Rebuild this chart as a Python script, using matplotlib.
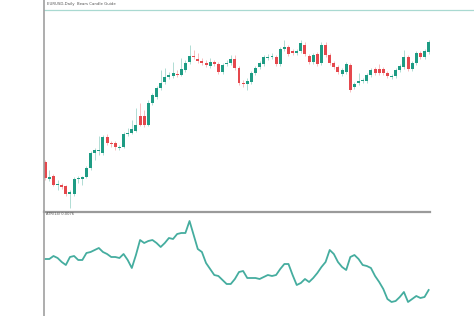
import matplotlib
matplotlib.use("Agg")
import matplotlib.pyplot as plt
import numpy as np

# candle data (arbitrary price units)
opens = [48, 31, 34, 25, 25, 24, 16, 16, 31, 31,
         33, 42, 57, 59, 57, 73, 67, 67, 62, 63,
         76, 77, 79, 94, 94, 85, 107, 113, 122, 128,
         133, 134, 136, 135, 140, 148, 154, 151, 149, 147,
         144, 148, 146, 138, 146, 147, 151, 142, 127, 126,
         128, 137, 143, 146, 152, 153, 153, 146, 161, 163,
         159, 157, 159, 165, 154, 148, 156, 147, 165, 155,
         147, 143, 136, 138, 145, 123, 127, 129, 129, 135,
         141, 141, 141, 137, 133, 134, 140, 143, 153, 141,
         147, 157, 153, 158]
closes = [32, 33, 25, 26, 23, 16, 18, 31, 32, 33,
          42, 57, 60, 60, 73, 67, 66, 63, 63, 76,
          77, 81, 85, 85, 85, 107, 115, 122, 127, 133,
          135, 137, 135, 141, 147, 154, 153, 149, 147, 145,
          148, 146, 138, 145, 147, 151, 142, 127, 126, 129,
          137, 142, 147, 153, 153, 154, 146, 161, 163, 156,
          157, 159, 167, 156, 148, 155, 146, 165, 155, 147,
          143, 138, 140, 146, 120, 126, 129, 130, 135, 140,
          137, 137, 137, 134, 134, 140, 144, 153, 141, 147,
          157, 153, 159, 168]
highs = [50, 40, 36, 30, 27, 25, 20, 33, 34, 34,
         44, 59, 62, 74, 75, 76, 69, 69, 65, 78,
         82, 90, 102, 107, 100, 110, 117, 124, 140, 142,
         138, 148, 140, 152, 150, 165, 160, 157, 152, 150,
         152, 150, 148, 147, 150, 155, 155, 144, 130, 132,
         139, 144, 149, 155, 156, 157, 155, 163, 170, 165,
         161, 161, 170, 168, 156, 157, 158, 168, 168, 157,
         149, 145, 142, 148, 147, 128, 137, 132, 137, 142,
         143, 146, 143, 139, 136, 142, 146, 160, 155, 149,
         159, 159, 161, 170]
lows = [30, 29, 24, 20, 21, 14, 2, 14, 27, 25,
        32, 40, 50, 55, 55, 65, 63, 60, 60, 62,
        74, 76, 78, 84, 83, 84, 105, 111, 120, 126,
        131, 132, 133, 134, 138, 146, 151, 147, 145, 143,
        142, 144, 136, 136, 144, 145, 140, 125, 123, 120,
        126, 135, 141, 144, 150, 151, 144, 144, 159, 154,
        155, 155, 157, 154, 146, 146, 144, 145, 153, 145,
        141, 136, 134, 136, 118, 121, 125, 127, 127, 133,
        135, 135, 135, 132, 131, 132, 138, 141, 139, 139,
        145, 151, 151, 156]

# oscillator in the lower pane
osc = [57, 57, 60, 58, 54, 51, 59, 60, 56, 56,
       63, 64, 66, 68, 64, 62, 59, 59, 58, 62,
       56, 48, 61, 76, 73, 75, 76, 73, 69, 73,
       78, 77, 82, 83, 83, 95, 81, 67, 64, 53,
       47, 41, 40, 36, 32, 32, 37, 44, 45, 38,
       38, 38, 37, 39, 41, 40, 41, 47, 52, 52,
       41, 31, 33, 37, 34, 38, 43, 49, 54, 66,
       62, 54, 49, 46, 59, 61, 57, 51, 50, 48,
       40, 34, 27, 17, 14, 15, 19, 24, 14, 17,
       20, 18, 19, 26]

level = 200

green = "#1e9c84"
red = "#e5484d"

fig = plt.figure(figsize=(4.74, 3.16), dpi=100)
ax = fig.add_axes([44 / 474, 105 / 316, 430 / 474, 211 / 316])
ax2 = fig.add_axes([44 / 474, 0, 430 / 474, 105 / 316])

idx = np.arange(len(opens))
o = np.array(opens, float)
c = np.array(closes, float)
up = c >= o
cols = [green if u else red for u in up]

# wicks and bodies
ax.vlines(idx, lows, highs, colors=cols, linewidth=0.7, alpha=0.35)
body = np.maximum(np.abs(c - o), 1.0)
ax.bar(idx, body, bottom=np.minimum(o, c), width=0.72, color=cols, linewidth=0)
ax.axhline(level, color="#a9d9d1", linewidth=0.9)

ax.set_xlim(-0.3, 104)
ax.set_ylim(-1, 210)

ax2.plot(idx, osc, color="#45ad9f", linewidth=1.3)
ax2.set_xlim(-0.3, 104)
ax2.set_ylim(0, 105)
ax2.axhline(104.3, xmin=0, xmax=386 / 430, color="#9a9a9a", linewidth=1.6, clip_on=False)

for a in (ax, ax2):
    for s in ("top", "right", "bottom"):
        a.spines[s].set_visible(False)
    a.spines["left"].set_color("#a0a0a0")
    a.spines["left"].set_linewidth(1.2)
    a.set_xticks([])
    a.set_yticks([])
    a.patch.set_alpha(0)

fig.text(47 / 474, 1 - 4 / 316, "EURUSD,Daily  Bears Candle Guide", fontsize=2.8,
         color="#555555", va="center")
fig.text(46 / 474, 1 - 214 / 316, "ATR(14) 0.0076", fontsize=2.6,
         color="#555555", va="center")

fig.savefig("out.png", dpi=100)
